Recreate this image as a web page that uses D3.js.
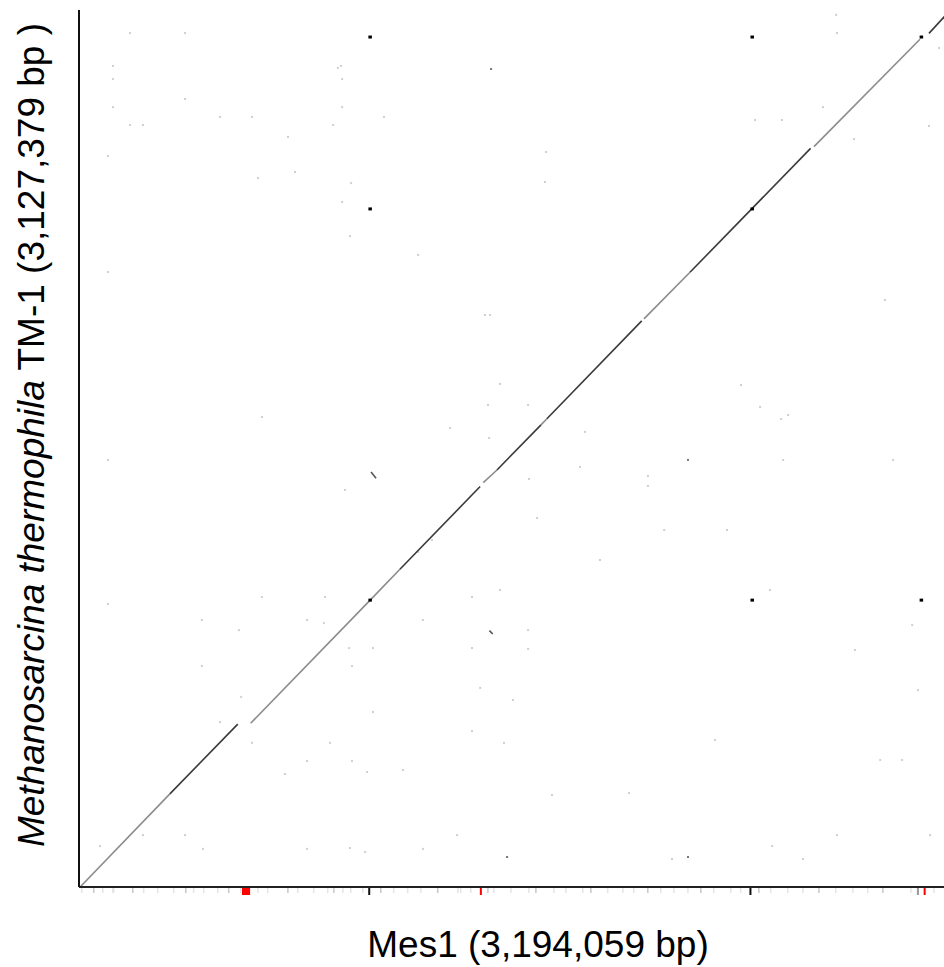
<!DOCTYPE html>
<html>
<head>
<meta charset="utf-8">
<script src="https://cdn.jsdelivr.net/npm/d3@7"></script>
<style>
  html, body { margin: 0; padding: 0; background: #fff; }
  svg { display: block; }
</style>
</head>
<body>
<div id="dotplot"></div>
<script>
// genome lengths (bp)
const lenX = 3194059; // Mes1
const lenY = 3127379; // M. thermophila TM-1

// main diagonal alignment blocks, positions in kb
const segX0 = [4, 324, 612, 1038, 1144, 1441, 1490, 1647, 1668, 2014, 2178, 2620, 3030];
const segX1 = [324, 566, 1038, 1144, 1430, 1490, 1647, 1668, 2006, 2178, 2608, 2998, 3106];
const segY0 = [0, 332, 584, 1023, 1133, 1442, 1487, 1648, 1670, 2026, 2192, 2640, 3044];
const segY1 = [332, 581, 1023, 1133, 1428, 1487, 1648, 1670, 2019, 2192, 2634, 3023, 3127];
const segTone = ["gray", "dark", "gray", "gray", "dark", "gray", "dark", "gray", "dark", "gray", "dark", "gray", "dark"];

// short inverted hits (kb)
const invX0 = [1041, 1463];
const invX1 = [1059, 1475];
const invY0 = [1480, 914];
const invY1 = [1458, 902];

// repeated element hits (kb)
const repX = [1037, 2399, 3002, 1037, 2399, 1037, 2399, 3002];
const repY = [3031, 3031, 3031, 2418, 2418, 1023, 1023, 1023];

// faint scattered hits (kb)
const hitX = [923, 934, 121, 938, 378, 503, 617, 1087, 745, 770, 103, 638, 970, 938, 966, 182, 378, 121, 121, 938,
  906, 182, 228, 103, 103, 103, 652, 895, 948, 1209, 1209, 1258, 1430, 1469, 1501, 1547, 1665, 1661, 1686, 1804,
  1857, 1961, 2086, 2267, 2310, 2360, 2410, 2463, 2510, 2766, 2856, 2873, 2902, 2934, 2970, 2991, 1526, 2114, 2171, 2581,
  2471, 2702, 3034, 75, 442, 813, 1020, 1226, 966, 1348, 378, 228, 652, 877, 570, 438, 438, 813, 873, 1226,
  1401, 963, 1048, 973, 1401, 1601, 1601, 578, 1048, 503, 1401, 1515, 617, 813, 973, 734, 1027, 1155, 1447, 1465,
  1501, 1458, 1601, 1323, 1462, 1786, 1604, 2171, 2028, 2028, 2428, 2503, 2528, 1633, 2702, 2699, 2652, 2763, 3030, 3066, 2506];
const hitY = [2921, 2928, 2881, 2881, 2810, 2746, 2746, 2746, 2675, 2550, 2607, 2528, 2510, 2443, 2321, 3045, 3045, 2928, 2781, 2781,
  2717, 2717, 2717, 2193, 1523, 1009, 1676, 514, 1416, 2254, 1195, 1237, 710, 2917, 1059, 667, 2621, 2514, 328, 1623,
  1166, 335, 1273, 524, 1273, 1790, 2735, 1059, 1523, 845, 453, 2093, 1523, 453, 934, 702, 107, 100, 107, 100,
  146, 185, 185, 146, 136, 136, 125, 136, 139, 185, 185, 185, 1034, 1034, 916, 952, 788, 952, 941, 952,
  1034, 852, 852, 788, 852, 916, 849, 678, 624, 588, 556, 514, 514, 449, 449, 403, 410, 417, 2040, 2040,
  1794, 1719, 1719, 1637, 1601, 1498, 1455, 1523, 1466, 1430, 1712, 1669, 1683, 1316, 3045, 3110, 2781, 2667, 2714, 2992, 2735];
const hitDark = [1526, 2171, 1469];

// feature track under the x axis (kb)
const trackX = [7, 50, 82, 118, 121, 189, 228, 278, 335, 378, 406, 442, 492, 531, 574, 635, 670, 742, 777, 834,
  884, 906, 938, 966, 1009, 1073, 1119, 1169, 1216, 1276, 1348, 1358, 1394, 1455, 1476, 1537, 1601, 1626, 1690, 1733,
  1793, 1822, 1882, 1936, 1975, 2025, 2071, 2118, 2168, 2214, 2260, 2321, 2356, 2421, 2463, 2524, 2578, 2635, 2695, 2756,
  2809, 2863, 2963, 3045];
const markX0 = [581, 1429, 3011, 1031, 2390, 2987];
const markX1 = [610, 1434, 3016, 1038, 2397, 2994];
const markColor = ["#ff0000", "#ff0000", "#ff0000", "#111111", "#111111", "#999999"];

const width = 944;
const height = 967;
const margin = { left: 79, top: 10, bottom: 887, right: 975 };

const x = d3.scaleLinear().domain([0, lenX / 1000]).range([margin.left, margin.right]);
const y = d3.scaleLinear().domain([0, lenY / 1000]).range([margin.bottom, margin.top]);

const svg = d3.select("#dotplot")
  .append("svg")
  .attr("width", width)
  .attr("height", height)
  .style("font-family", "'Liberation Sans', Arial, sans-serif");

svg.append("rect").attr("width", width).attr("height", height).attr("fill", "#fff");

// faint hits
svg.append("g").selectAll("rect")
  .data(hitX.map((d, i) => ({ x: d, y: hitY[i] })))
  .enter()
  .append("rect")
  .attr("x", d => x(d.x) - 1)
  .attr("y", d => y(d.y) - 1)
  .attr("width", 2)
  .attr("height", 2)
  .attr("fill", d => hitDark.includes(d.x) ? "#777" : "#cfcfcf");

// diagonal blocks
const segs = segX0.map((d, i) => ({ x0: d, x1: segX1[i], y0: segY0[i], y1: segY1[i], tone: segTone[i] }));
svg.append("g").selectAll("line")
  .data(segs)
  .enter()
  .append("line")
  .attr("x1", d => x(d.x0))
  .attr("y1", d => y(d.y0))
  .attr("x2", d => x(d.x1))
  .attr("y2", d => y(d.y1))
  .attr("stroke", d => d.tone === "dark" ? "#3a3a3a" : "#8c8c8c")
  .attr("stroke-width", 1.6);

// inverted hits
svg.append("g").selectAll("line")
  .data(invX0.map((d, i) => ({ x0: d, x1: invX1[i], y0: invY0[i], y1: invY1[i] })))
  .enter()
  .append("line")
  .attr("x1", d => x(d.x0))
  .attr("y1", d => y(d.y0))
  .attr("x2", d => x(d.x1))
  .attr("y2", d => y(d.y1))
  .attr("stroke", "#555")
  .attr("stroke-width", 1.6);

// repeats
svg.append("g").selectAll("rect")
  .data(repX.map((d, i) => ({ x: d, y: repY[i] })))
  .enter()
  .append("rect")
  .attr("x", d => x(d.x) - 1.5)
  .attr("y", d => y(d.y) - 1.5)
  .attr("width", 3.5)
  .attr("height", 3)
  .attr("fill", "#000");

// feature track
svg.append("g").selectAll("rect")
  .data(trackX)
  .enter()
  .append("rect")
  .attr("x", d => x(d))
  .attr("y", margin.bottom)
  .attr("width", 1.5)
  .attr("height", 6)
  .attr("fill", (d, i) => i % 4 === 1 ? "#c8c8c8" : "#e4e4e4");

svg.append("g").selectAll("rect")
  .data(markX0.map((d, i) => ({ x0: d, x1: markX1[i], c: markColor[i] })))
  .enter()
  .append("rect")
  .attr("x", d => x(d.x0))
  .attr("y", margin.bottom)
  .attr("width", d => Math.max(2, x(d.x1) - x(d.x0)))
  .attr("height", 8)
  .attr("fill", d => d.c);

// axes
svg.append("line")
  .attr("x1", margin.left).attr("y1", margin.top)
  .attr("x2", margin.left).attr("y2", margin.bottom)
  .attr("stroke", "#111").attr("stroke-width", 2);
svg.append("line")
  .attr("x1", margin.left).attr("y1", margin.bottom)
  .attr("x2", width).attr("y2", margin.bottom)
  .attr("stroke", "#222").attr("stroke-width", 2);

// axis titles
svg.append("text")
  .attr("x", 538)
  .attr("y", 957)
  .attr("text-anchor", "middle")
  .attr("font-size", 37)
  .attr("fill", "#000")
  .text("Mes1 (3,194,059 bp)");

const yTitle = svg.append("text")
  .attr("transform", "translate(44,435) rotate(-90)")
  .attr("text-anchor", "middle")
  .attr("font-size", 37)
  .attr("fill", "#000");
yTitle.append("tspan").attr("font-style", "italic").text("Methanosarcina thermophila");
yTitle.append("tspan").text(" TM-1 (3,127,379 bp )");
</script>
</body>
</html>
